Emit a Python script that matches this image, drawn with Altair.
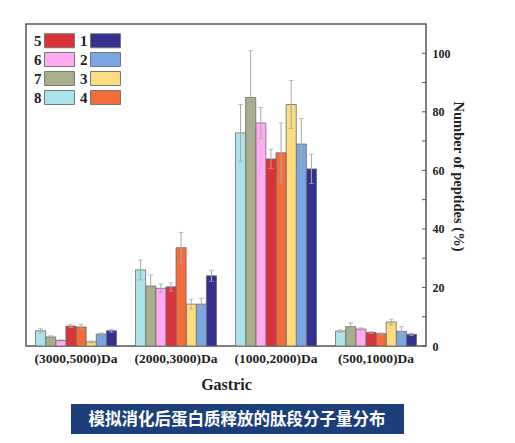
import altair as alt
import pandas as pd

categories = ["(500,1000)Da", "(1000,2000)Da", "(2000,3000)Da", "(3000,5000)Da"]
x_order = ["(3000,5000)Da", "(2000,3000)Da", "(1000,2000)Da", "(500,1000)Da"]
samples = ["1", "2", "3", "4", "5", "6", "7", "8"]
colors = {"1": "#34318f", "2": "#7aa6e2", "3": "#fbdc7e", "4": "#f46c3a",
          "5": "#d93238", "6": "#ffaaf3", "7": "#a9ae8b", "8": "#ace2ea"}

v_500 = [4.0, 5.0, 8.2, 4.2, 4.6, 5.8, 6.6, 5.1]
e_500 = [0.4, 1.6, 1.0, 0.3, 0.3, 0.4, 1.3, 0.4]
v_1000 = [60.5, 69.0, 82.5, 66.0, 63.9, 76.2, 84.9, 72.8]
e_1000 = [5.0, 8.7, 8.2, 10.2, 3.3, 5.3, 16.0, 9.7]
v_2000 = [24.0, 14.3, 14.3, 33.6, 20.2, 19.7, 20.5, 26.0]
e_2000 = [1.9, 2.0, 1.7, 5.2, 1.4, 1.5, 3.8, 3.4]
v_3000 = [5.2, 4.1, 1.4, 6.5, 6.8, 1.9, 3.1, 5.2]
e_3000 = [0.5, 0.4, 0.3, 0.9, 0.5, 0.3, 0.4, 0.7]

y_ticks = [0, 10, 20, 30, 40, 50, 60, 70, 80, 90, 100]
banner_text = "模拟消化后蛋白质释放的肽段分子量分布"

rows = []
for cat, vals, errs in zip(categories, [v_500, v_1000, v_2000, v_3000],
                           [e_500, e_1000, e_2000, e_3000]):
    for s, v, e in zip(samples, vals, errs):
        rows.append({"cat": cat, "sample": s, "value": v, "lo": v - e, "hi": v + e})
df = pd.DataFrame(rows)

legend_order = ["5", "6", "7", "8", "1", "2", "3", "4"]
offset_order = ["8", "7", "6", "5", "4", "3", "2", "1"]

SERIF = "Liberation Serif"
W, H = 400, 322

xenc = alt.X("cat:N", sort=x_order,
             scale=alt.Scale(paddingInner=0.19, paddingOuter=0.095),
             axis=alt.Axis(title="Gastric", labelAngle=0, ticks=False, domain=False,
                           labelFont=SERIF, labelFontWeight="bold", labelFontSize=13.5,
                           labelColor="#222", labelPadding=5,
                           titleFont=SERIF, titleFontWeight="bold", titleFontSize=16,
                           titleColor="#222", titlePadding=12))
yscale = alt.Scale(domain=[0, 110], nice=False)
xoff = alt.XOffset("sample:N", sort=offset_order)

bars = alt.Chart(df).mark_bar(stroke="#6b6b6b", strokeWidth=0.8).encode(
    x=xenc,
    xOffset=xoff,
    y=alt.Y("value:Q", scale=yscale,
            axis=alt.Axis(orient="right", values=[0, 20, 40, 60, 80, 100], grid=False,
                          ticks=False, domain=False, title="Number of peptides (%)",
                          labelFont=SERIF, labelFontWeight="bold", labelFontSize=12,
                          labelColor="#222", labelPadding=6,
                          titleFont=SERIF, titleFontWeight="bold", titleFontSize=14.5,
                          titleColor="#222", titlePadding=0, titleY=152)),
    color=alt.Color("sample:N",
                    scale=alt.Scale(domain=legend_order,
                                    range=[colors[k] for k in legend_order]),
                    legend=alt.Legend(orient="none", legendX=26, legendY=9,
                                      columns=2, title=None,
                                      symbolType="M-2.14,-1H2.14V1H-2.14Z",
                                      symbolSize=196, symbolStrokeColor="#777",
                                      symbolStrokeWidth=1, symbolOpacity=1,
                                      labelFont=SERIF, labelFontWeight="bold",
                                      labelFontSize=15, labelColor="#222",
                                      labelOffset={"expr": "-33"}, columnPadding=3,
                                      rowPadding=0, padding=0)),
)

err_rule = alt.Chart(df).mark_rule(color="#a8a8a8", strokeWidth=1).encode(
    x=alt.X("cat:N", sort=x_order), xOffset=xoff,
    y=alt.Y("lo:Q", scale=yscale), y2="hi:Q")
err_hi = alt.Chart(df).mark_tick(color="#a8a8a8", thickness=1, size=5).encode(
    x=alt.X("cat:N", sort=x_order), xOffset=xoff, y=alt.Y("hi:Q", scale=yscale))
err_lo = alt.Chart(df).mark_tick(color="#a8a8a8", thickness=1, size=5).encode(
    x=alt.X("cat:N", sort=x_order), xOffset=xoff, y=alt.Y("lo:Q", scale=yscale))

tick_df = pd.DataFrame({"t": y_ticks})
ticks = alt.Chart(tick_df).mark_rule(color="#555", strokeWidth=1).encode(
    y=alt.Y("t:Q", scale=yscale), x=alt.value(W - 4), x2=alt.value(W))

banner_df = pd.DataFrame({"label": [banner_text]})
banner = alt.Chart(banner_df).mark_rect(color="#1c3f7c").encode(
    x=alt.value(45), x2=alt.value(378), y=alt.value(380), y2=alt.value(410))
banner_txt = alt.Chart(banner_df).mark_text(
    color="white", font="Noto Sans CJK SC", fontSize=16.5, fontWeight="bold",
    baseline="middle", align="center").encode(
    text="label:N", x=alt.value(211), y=alt.value(395.5))

chart = alt.layer(bars, err_rule, err_hi, err_lo, ticks, banner, banner_txt).properties(
    width=W, height=H,
    padding={"left": 18, "top": 16, "right": 5, "bottom": 5},
    background="white",
).configure_view(stroke="#555", strokeWidth=1.5)

chart.save("out.html", embed_options={"renderer": "svg", "actions": False})
